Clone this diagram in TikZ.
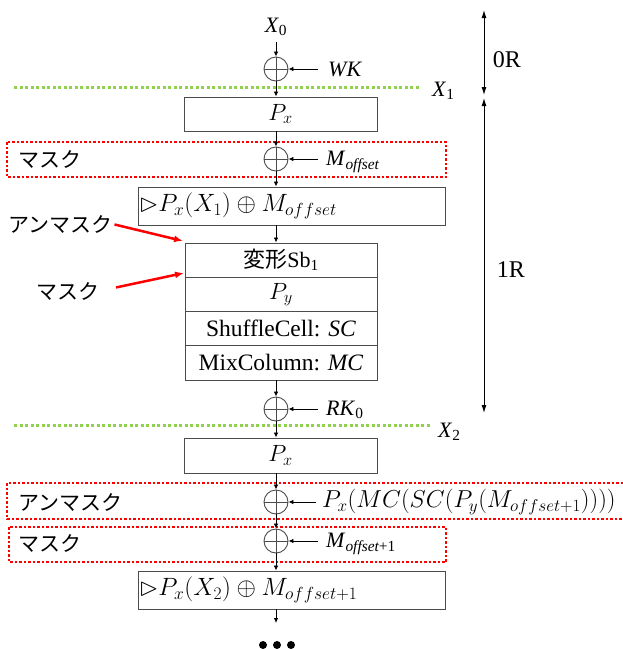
\documentclass[tikz,border=0pt]{standalone}
\usepackage{fix-cm}
\usepackage{amsmath,amssymb}
\usepackage{fontspec}
\setmainfont{Liberation Serif}
\newfontfamily\jp{Noto Sans CJK JP}
\usetikzlibrary{arrows.meta}
\definecolor{cutgreen}{HTML}{92D050}

\tikzset{
  lbl/.style={font=\fontsize{22}{26}\selectfont, inner sep=0pt},
  jlbl/.style={font=\jp\fontsize{21}{25}\selectfont, inner sep=0pt, anchor=west},
  opbox/.style={draw=black!70, line width=0.9pt, minimum width=193pt, minimum height=34pt,
    inner sep=0pt, font=\fontsize{23.5}{27}\selectfont},
  widebox/.style={opbox, minimum width=307pt, minimum height=38pt, inner xsep=1pt,
    text width=305pt, align=left, font=\fontsize{25}{29}\selectfont},
  xorop/.style={circle, draw=black!70, line width=0.9pt, minimum size=24pt, inner sep=0pt,
    path picture={\draw[black!70, line width=0.9pt]
      (path picture bounding box.north) -- (path picture bounding box.south)
      (path picture bounding box.west) -- (path picture bounding box.east);}},
  flow/.style={-{Latex[length=5pt,width=4.5pt]}, line width=0.8pt},
  maskarrow/.style={-{Latex[length=9pt,width=7pt]}, red, line width=2.5pt},
  roundspan/.style={{Latex[length=8pt,width=5pt]}-{Latex[length=8pt,width=5pt]}, line width=1pt},
  boundary/.style={draw=cutgreen, line width=3pt, dash pattern=on 3pt off 2.5pt},
  maskzone/.style={draw=red, line width=2.3pt, dash pattern=on 2.5pt off 2pt},
}

\begin{document}
\begin{tikzpicture}[x=1pt, y=-1pt]
\useasboundingbox (0,0) rectangle (623,649);

% round boundaries
\draw[boundary] (14,87) -- (420,87);
\draw[boundary] (14,425) -- (430,425);

% mask regions
\draw[maskzone] (7,142) rectangle (446,177);
\draw[maskzone] (7,483) rectangle (630,519);
\draw[maskzone] (9,527) rectangle (446,562);

% round 0
\node[lbl] (x0) at (276,27) {\textit{X}$_{\textrm{0}}$};
\node[xorop] (xor1) at (276,69) {};
\node[lbl, anchor=west] (wk) at (328,69) {\textit{WK}};
\node[lbl, anchor=west] (x1) at (432,91) {\textit{X}$_{\textrm{1}}$};

% round 1
\node[opbox] (px1) at (280.5,114) {$P_x$};
\node[xorop] (xor2) at (276,159) {};
\node[jlbl] (mask1) at (18,159) {マスク};
\node[lbl, anchor=west] (moff) at (326,162) {\textit{M}$_{\textit{offset}}$};
\node[widebox] (box2) at (291.5,206) {$\rhd P_x(X_1)\oplus M_{offset}$};

\node[opbox, minimum width=192pt, minimum height=34.25pt, font=\fontsize{22}{26}\selectfont] (sb) at (281,260.1) {{\jp 変形}Sb$_{\textrm{1}}$};
\node[opbox, minimum width=192pt, minimum height=34.25pt] (py) at (281,294.4) {$P_y$};
\node[opbox, minimum width=192pt, minimum height=34.25pt] (sc) at (281,328.6) {ShuffleCell: \textit{SC}};
\node[opbox, minimum width=192pt, minimum height=34.25pt] (mc) at (281,362.9) {MixColumn: \textit{MC}};

\node[jlbl] (unmask0) at (8,224) {アンマスク};
\node[jlbl] (mask0) at (36,291) {マスク};
\coordinate (unmaskpt) at (183,241);
\coordinate (maskpt) at (184,273);

\node[xorop] (xor3) at (276,409) {};
\node[lbl, anchor=west] (rk0) at (326,410) {\textit{RK}$_{\textrm{0}}$};
\node[lbl, anchor=west] (x2) at (438,432) {\textit{X}$_{\textrm{2}}$};

% round 2
\node[opbox, minimum height=35pt] (px2) at (280.5,455.5) {$P_x$};
\node[xorop] (xor4) at (276,502) {};
\node[jlbl] (unmask2) at (18,502) {アンマスク};
\node[lbl, anchor=west, font=\fontsize{24.5}{28}\selectfont] (corr) at (322,502) {$P_x(MC(SC(P_y(M_{offset+1}))))$};
\node[xorop] (xor5) at (276,541) {};
\node[jlbl] (mask2) at (18,543) {マスク};
\node[lbl, anchor=west] (moff1) at (326,544) {\textit{M}$_{\textit{offset}\textrm{+1}}$};
\node[widebox] (box5) at (291.5,590) {$\rhd P_x(X_2)\oplus M_{offset+1}$};
\coordinate (more) at (276,623);

% main data path
\draw[flow, shorten <=6pt] (x0) -- (xor1);
\draw[flow] (xor1.south) -- (xor1.south |- px1.north);
\draw[flow] (px1.south -| xor2.north) -- (xor2.north);
\draw[flow] (xor2.south) -- (xor2.south |- box2.north);
\draw[flow] (box2.south -| xor2.south) -- (sb.north -| xor2.south);
\draw[flow] (mc.south -| xor3.north) -- (xor3.north);
\draw[flow] (xor3.south) -- (xor3.south |- px2.north);
\draw[flow] (px2.south -| xor4.north) -- (xor4.north);
\draw[flow] (xor4.south) -- (xor5.north);
\draw[flow] (xor5.south) -- (xor5.south |- box5.north);
\draw[flow] (box5.south -| more) -- (more);

% key and mask inputs
\draw[flow, shorten <=10pt] (wk.west) -- (xor1.east);
\draw[flow, shorten <=8pt] (moff.west |- xor2.east) -- (xor2.east);
\draw[flow, shorten <=8pt] (rk0.west |- xor3.east) -- (xor3.east);
\draw[flow, shorten <=6pt] (corr.west |- xor4.east) -- (xor4.east);
\draw[flow, shorten <=8pt] (moff1.west |- xor5.east) -- (xor5.east);

% masking annotations
\draw[maskarrow, shorten <=2pt] (unmask0.east) -- (unmaskpt);
\draw[maskarrow, shorten <=17pt] (mask0.east) -- (maskpt);

% round extents
\coordinate (r0top) at (484,10);
\coordinate (r0bot) at (484,95);
\coordinate (r1top) at (484,98);
\coordinate (r1bot) at (484,413);
\draw[roundspan] (r0top) -- (r0bot);
\draw[roundspan] (r1top) -- (r1bot);
\node[lbl, font=\fontsize{24}{28}\selectfont] (r0) at (507,60) {0R};
\node[lbl, font=\fontsize{24}{28}\selectfont] (r1) at (511,270) {1R};

% continuation
\fill (263,645) circle (4pt) (277,645) circle (4pt) (291,645) circle (4pt);
\end{tikzpicture}
\end{document}
